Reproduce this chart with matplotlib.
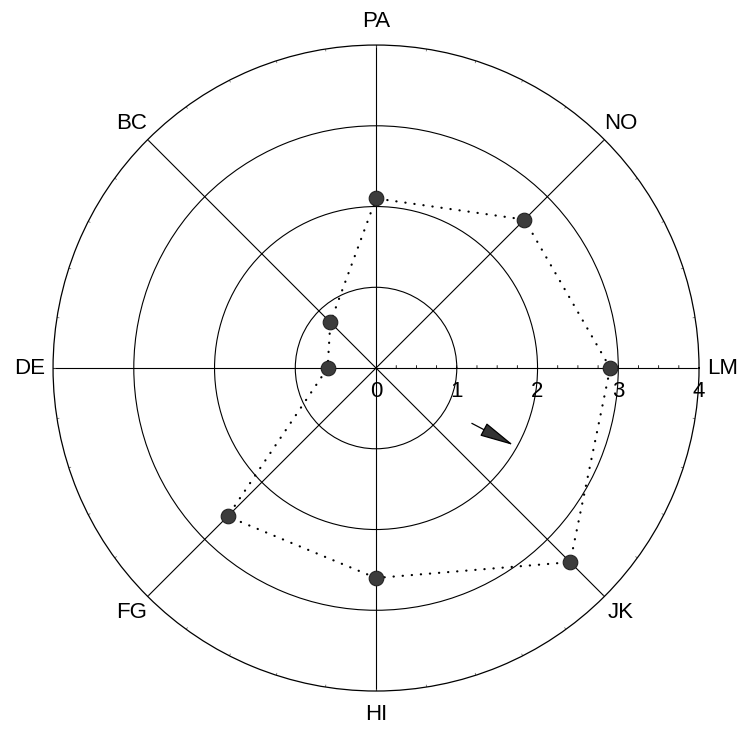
import matplotlib.pyplot as plt
import numpy as np

plt.rcParams['font.family'] = ['Liberation Sans', 'DejaVu Sans']

# axis names, counter-clockwise starting from the right
categories = ['LM', 'NO', 'PA', 'BC', 'DE', 'FG', 'HI', 'JK']
angles_deg = [0, 45, 90, 135, 180, 225, 270, 315]
# score on each axis
values = [2.9, 2.6, 2.1, 0.8, 0.6, 2.6, 2.6, 3.4]
# radial scale labels
ring_labels = [0, 1, 2, 3, 4]

theta = np.deg2rad(angles_deg)

fig = plt.figure(figsize=(7.47, 7.30), dpi=100)
ax = fig.add_axes([0.0710, 0.0534, 0.8648, 0.8849], projection='polar')

ax.set_ylim(0, 4)
ax.set_thetagrids(angles_deg, labels=[''] * len(angles_deg))
ax.set_rgrids([1, 2, 3], labels=['', '', ''])
ax.grid(True, color='black', linewidth=0.8, linestyle='-')
ax.spines['polar'].set_color('black')
ax.spines['polar'].set_linewidth(0.9)
ax.tick_params(length=0)

# small ticks along the LM axis and around the outer ring
for r in np.arange(0.25, 4.0, 0.25):
    ax.annotate('', xy=(0, r), xytext=(0, 1.8), textcoords='offset points',
                arrowprops=dict(arrowstyle='-', color='black', lw=0.6,
                                shrinkA=0, shrinkB=0))
for t in np.arange(0, 360, 9):
    ax.plot([np.deg2rad(t)] * 2, [3.975, 4.0], color='#555555', lw=0.5)

# closed profile: dotted outline with filled markers
th = np.append(theta, theta[0])
vals = np.append(values, values[0])
ax.plot(th, vals, color='black', linewidth=1.6, linestyle=(0, (0.1, 4.0)),
        dash_capstyle='round', zorder=3)
ax.plot(theta, values, linestyle='none', marker='o', markersize=10.5,
        markerfacecolor='#3c3c3c', markeredgecolor='#222222',
        markeredgewidth=0.8, zorder=4)

# axis names outside the ring
for t, name in zip(theta, categories):
    ax.text(t, 4.29, name, ha='center', va='center', fontsize=16)

# radial scale along the LM axis
for r in ring_labels:
    ax.annotate(str(r), xy=(0, r), xytext=(0, -17), textcoords='offset points',
                ha='center', va='center', fontsize=16)

# direction arrow
ax.annotate('', xy=(np.deg2rad(-29.3), 1.95), xytext=(np.deg2rad(-30.0), 1.37),
            arrowprops=dict(arrowstyle='-|>,head_length=1.2,head_width=0.25',
                            mutation_scale=18, color='black', lw=0.9,
                            fc='#333333', shrinkA=0, shrinkB=0))

fig.savefig('out.png', dpi=100)
